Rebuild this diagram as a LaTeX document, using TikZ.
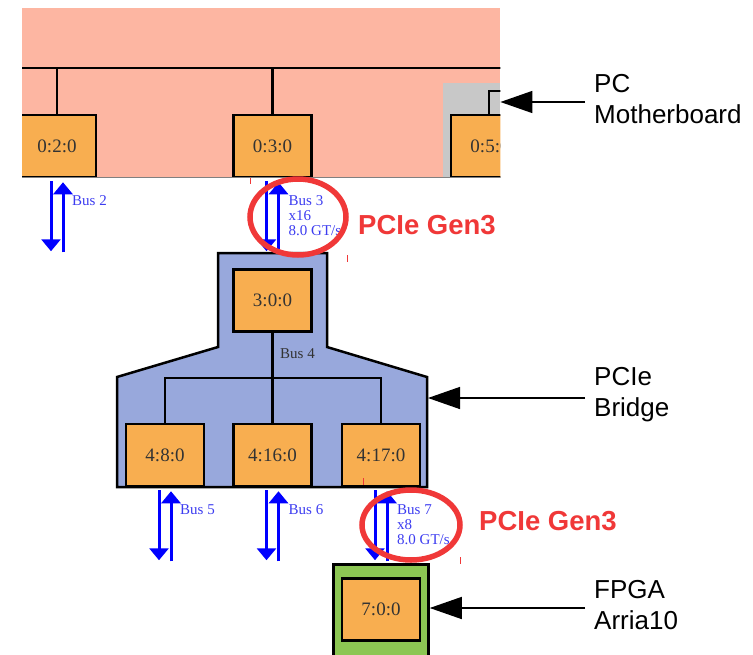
\documentclass[tikz,border=0pt]{standalone}
\usepackage{fontspec}
\setmainfont{Liberation Serif}
\newfontfamily\sidefont{Liberation Sans}
\usetikzlibrary{arrows.meta}

\definecolor{mbpink}{RGB}{253,182,162}
\definecolor{mbgray}{RGB}{200,200,200}
\definecolor{bridgeblue}{RGB}{152,168,220}
\definecolor{fpgagreen}{RGB}{140,198,83}
\definecolor{devorange}{RGB}{248,174,80}
\definecolor{devtext}{RGB}{51,51,51}
\definecolor{busblue}{RGB}{0,0,255}
\definecolor{bustext}{RGB}{60,60,240}
\definecolor{hired}{RGB}{240,56,56}

\tikzset{
  dev/.style={draw, line width=2.5pt, fill=devorange, minimum width=78pt,
    minimum height=62pt, inner sep=0pt, text=devtext,
    font=\fontsize{19}{20}\selectfont},
  busline/.style={draw=busblue, line width=3pt, -{Triangle[length=12pt,width=19pt]}},
  buslbl/.style={text=bustext, font=\fontsize{15}{15}\selectfont, align=left,
    anchor=north west, inner sep=0pt},
  sidelbl/.style={font=\sidefont\fontsize{26}{31}\selectfont, align=left,
    anchor=west, inner xsep=9pt, inner ysep=0pt},
  sidearrow/.style={line width=1.4pt, -{Triangle[length=32pt,width=22pt]}},
  hilite/.style={draw=hired, line width=5.5pt},
  gen3/.style={text=hired, font=\sidefont\bfseries\fontsize{27.5}{30}\selectfont,
    anchor=west, inner sep=0pt},
}

\begin{document}
\begin{tikzpicture}[x=1pt, y=-1pt]
  \useasboundingbox (0,0) rectangle (753,654);
  \clip (0,0) rectangle (753,654);

  % PC motherboard
  \node[fill=mbpink, minimum width=478pt, minimum height=169pt, inner sep=0pt,
    anchor=north west] (mb) at (22,8) {};
  \begin{scope}
    \clip (mb.south west) rectangle (mb.north east);
    \fill[mbgray] (443,83) rectangle (500,177);
    \draw[line width=2.5pt] (489,115) |- (505,91);
    \node[dev] (b020) at (57,146) {0:2:0};
    \node[dev] (b030) at (272.5,146) {0:3:0};
    \node[dev] (b050) at (490,146) {0:5:0};
    \draw[line width=2.5pt] (0,68) -- (510,68);
    \draw[line width=2.5pt] (b020.north |- 0,68) -- (b020.north);
    \draw[line width=2.5pt] (b030.north |- 0,68) -- (b030.north);
  \end{scope}
  \draw[gray, line width=1pt] (mb.south west) -- (mb.south east);

  % PCIe bridge
  \draw[line width=2.5pt, fill=bridgeblue] (218,253) -- (327,253) -- (327,347)
    -- (427,377) -- (427,487) -- (117,487) -- (117,377) -- (218,347) -- cycle;
  \coordinate (brE) at (428,398);
  \node[dev] (b300) at (272.5,300.5) {3:0:0};
  \node[dev] (b408) at (165,455) {4:8:0};
  \node[dev] (b416) at (272.5,455) {4:16:0};
  \node[dev] (b417) at (381,455) {4:17:0};
  \coordinate (bus4) at (272.5,378);
  \draw[line width=2.5pt] (b300.south) -- (b416.north);
  \draw[line width=2.5pt] (b408.north) -- (b408.north |- bus4)
    -- (b417.north |- bus4) -- (b417.north);
  \node[text=devtext, font=\fontsize{15}{15}\selectfont, anchor=west,
    inner sep=0pt] (lbl4) at (280,354) {Bus 4};

  % FPGA
  \node[draw, line width=2.5pt, fill=fpgagreen, minimum width=95pt,
    minimum height=110pt, anchor=north] (fpga) at (381,563) {};
  \node[dev] (b700) at (381,609.5) {7:0:0};

  % buses
  \foreach \b in {b020,b030,b408,b416,b417}{
    \draw[busline] ([xshift=-6pt,yshift=-3pt]\b.south) -- ++(0,70);
    \draw[busline] ([xshift=6pt,yshift=-74pt]\b.south) -- ++(0,-70);
  }
  \node[buslbl] (lbl2) at ([xshift=15pt,yshift=-17pt]b020.south) {Bus 2};
  \node[buslbl] (lbl3) at ([xshift=16pt,yshift=-17pt]b030.south) {Bus 3\\x16\\8.0 GT/s};
  \node[buslbl] (lbl5) at ([xshift=15pt,yshift=-17pt]b408.south) {Bus 5};
  \node[buslbl] (lbl6) at ([xshift=16pt,yshift=-17pt]b416.south) {Bus 6};
  \node[buslbl] (lbl7) at ([xshift=16pt,yshift=-17pt]b417.south) {Bus 7\\x8\\8.0 GT/s};

  % highlights
  \draw[hilite] (298,217) ellipse[x radius=48pt, y radius=38pt];
  \draw[hilite] (411,525) ellipse[x radius=49pt, y radius=35pt];
  \node[gen3] (gen3a) at (358,225) {PCIe Gen3};
  \node[gen3] (gen3b) at (479,521) {PCIe Gen3};
  \draw[hired, line width=1pt] (250,178) -- ++(0,6);
  \draw[hired, line width=1pt] (347,255) -- ++(0,7);
  \draw[hired, line width=1pt] (363,478) -- ++(0,7);
  \draw[hired, line width=1pt] (460,557) -- ++(0,7);

  % side labels
  \node[sidelbl] (lblpc) at (585,99) {PC\\Motherboard};
  \node[sidelbl] (lblbr) at (585,395) {PCIe\\Bridge};
  \node[sidelbl] (lblfp) at (585,605) {FPGA\\Arria10};
  \draw[sidearrow] ([yshift=-3pt]lblpc.west) -- ([yshift=-3pt]lblpc.west -| mb.east);
  \draw[sidearrow] ([yshift=-3pt]lblbr.west) -- ([yshift=-3pt]lblbr.west -| brE);
  \draw[sidearrow] ([yshift=-3pt]lblfp.west) -- ([yshift=-3pt]lblfp.west -| fpga.east);
\end{tikzpicture}
\end{document}
